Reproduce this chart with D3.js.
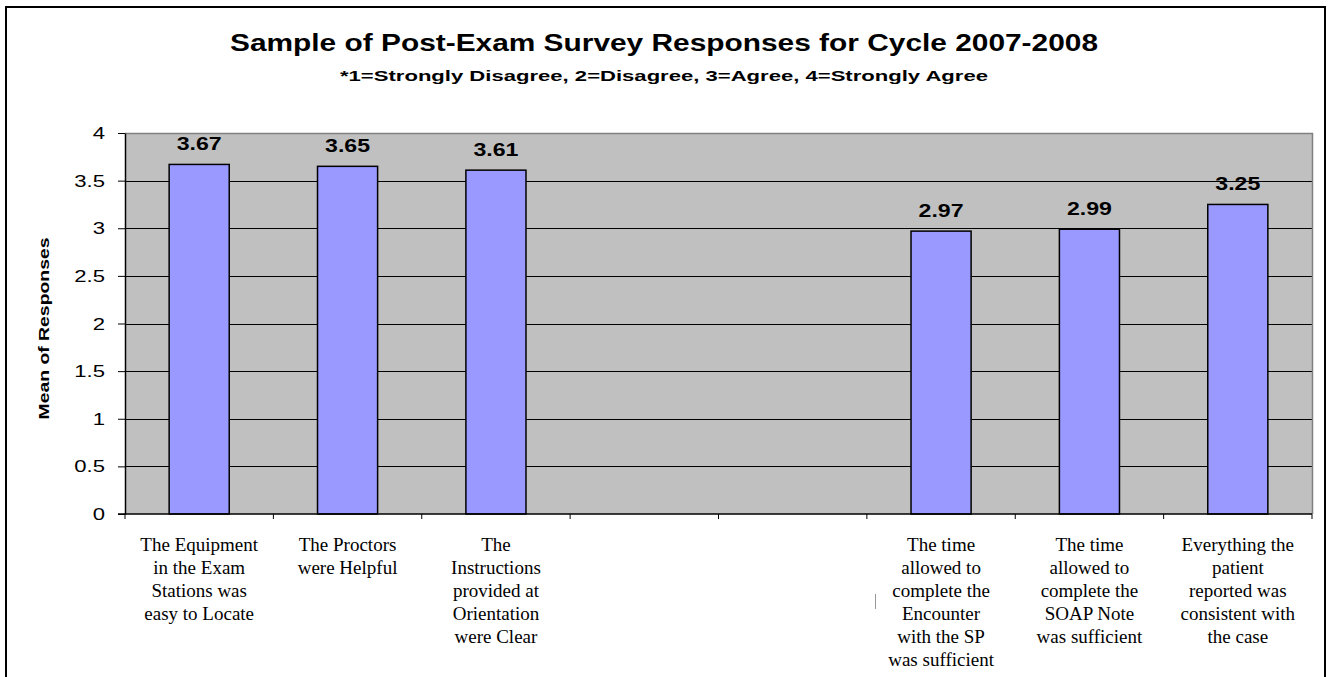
<!DOCTYPE html>
<html>
<head>
<meta charset="utf-8">
<script src="https://cdn.jsdelivr.net/npm/d3@7"></script>
<style>
  html, body { margin: 0; padding: 0; background: #fff; }
  svg { display: block; }
</style>
</head>
<body>
<svg id="chart" width="1329" height="677"></svg>
<script>
// Survey statements (two empty slots in the middle of the axis)
const categories = [
  ["The Equipment", "in the Exam", "Stations was", "easy to Locate"],
  ["The Proctors", "were Helpful"],
  ["The", "Instructions", "provided at", "Orientation", "were Clear"],
  [],
  [],
  ["The time", "allowed to", "complete the", "Encounter", "with the SP", "was sufficient"],
  ["The time", "allowed to", "complete the", "SOAP Note", "was sufficient"],
  ["Everything the", "patient", "reported was", "consistent with", "the case"]
];
// Mean response per statement (null = no bar)
const means = [3.67, 3.65, 3.61, null, null, 2.97, 2.99, 3.25];
const yTicks = [0, 0.5, 1, 1.5, 2, 2.5, 3, 3.5, 4];
const yTickLabels = ["0", "0.5", "1", "1.5", "2", "2.5", "3", "3.5", "4"];

const titleText = "Sample of Post-Exam Survey Responses for Cycle 2007-2008";
const subtitleText = "*1=Strongly Disagree, 2=Disagree, 3=Agree, 4=Strongly Agree";
const yTitleText = "Mean of Responses";

const svg = d3.select("#chart");
const sans = "'Liberation Sans', Arial, sans-serif";
const serif = "'Liberation Serif', 'Times New Roman', serif";

// Outer frame
svg.append("rect")
  .attr("x", 6).attr("y", 7)
  .attr("width", 1319).attr("height", 700)
  .attr("fill", "#fff").attr("stroke", "#000").attr("stroke-width", 2);

const plot = { left: 125, right: 1312, top: 133, bottom: 514 };

const x = d3.scaleBand()
  .domain(d3.range(categories.length))
  .range([plot.left, plot.right])
  .padding(0);

const y = d3.scaleLinear()
  .domain([0, 4])
  .range([plot.bottom, plot.top]);

// Plot area background
svg.append("rect")
  .attr("x", plot.left).attr("y", plot.top)
  .attr("width", plot.right - plot.left).attr("height", plot.bottom - plot.top)
  .attr("fill", "#C0C0C0");

// Horizontal gridlines
svg.append("g")
  .selectAll("line")
  .data(yTicks.filter(t => t > 0 && t < 4))
  .join("line")
  .attr("x1", plot.left).attr("x2", plot.right)
  .attr("y1", d => Math.round(y(d)) + 0.5).attr("y2", d => Math.round(y(d)) + 0.5)
  .attr("stroke", "#000").attr("stroke-width", 1);

// Plot border (top and right)
svg.append("path")
  .attr("d", `M${plot.left},${plot.top + 0.5}H${plot.right + 0.5}V${plot.bottom}`)
  .attr("fill", "none").attr("stroke", "#808080").attr("stroke-width", 1.5);

// Bars
const barW = x.bandwidth() * 0.405;
svg.append("g")
  .selectAll("rect")
  .data(means.map((v, i) => ({ v, i })).filter(d => d.v !== null))
  .join("rect")
  .attr("x", d => x(d.i) + (x.bandwidth() - barW) / 2)
  .attr("y", d => y(d.v))
  .attr("width", barW)
  .attr("height", d => y(0) - y(d.v))
  .attr("fill", "#9999FF")
  .attr("stroke", "#000")
  .attr("stroke-width", 1.5);

// Value labels
svg.append("g")
  .selectAll("text")
  .data(means.map((v, i) => ({ v, i })).filter(d => d.v !== null))
  .join("text")
  .attr("x", d => x(d.i) + x.bandwidth() / 2)
  .attr("y", d => y(d.v) - 14)
  .attr("text-anchor", "middle")
  .attr("font-family", sans)
  .attr("font-weight", "bold")
  .attr("font-size", 18.5)
  .attr("textLength", 45)
  .attr("lengthAdjust", "spacingAndGlyphs")
  .attr("fill", "#000")
  .text(d => d3.format(".2f")(d.v));

// Y axis
const yAxis = d3.axisLeft(y)
  .tickValues(yTicks)
  .tickFormat((d, i) => yTickLabels[i])
  .tickSize(7)
  .tickSizeOuter(0);
const yAxisG = svg.append("g")
  .attr("transform", `translate(${plot.left},0)`)
  .call(yAxis);
yAxisG.select(".domain").attr("stroke", "#000").attr("stroke-width", 1.5);
yAxisG.selectAll(".tick line").attr("stroke", "#000");
yAxisG.selectAll(".tick text")
  .attr("font-family", sans)
  .attr("font-size", 16)
  .attr("fill", "#000")
  .attr("x", -20 / 1.38)
  .attr("dy", "0.35em")
  .attr("transform", "scale(1.38,1)");

// X axis: tick marks on category boundaries
const xAxisG = svg.append("g");
xAxisG.append("line")
  .attr("x1", plot.left - 7).attr("x2", plot.right)
  .attr("y1", plot.bottom).attr("y2", plot.bottom)
  .attr("stroke", "#000").attr("stroke-width", 1.5);
xAxisG.selectAll("line.tick")
  .data(d3.range(categories.length + 1))
  .join("line")
  .attr("class", "tick")
  .attr("x1", i => i < categories.length ? x(i) : plot.right)
  .attr("x2", i => i < categories.length ? x(i) : plot.right)
  .attr("y1", plot.bottom).attr("y2", plot.bottom + 5)
  .attr("stroke", "#000").attr("stroke-width", 1);

// Category labels (wrapped, centered under each band)
const labelG = svg.append("g")
  .attr("font-family", serif)
  .attr("font-size", 19)
  .attr("fill", "#000")
  .attr("text-anchor", "middle");
categories.forEach((lines, i) => {
  const t = labelG.append("text")
    .attr("x", x(i) + x.bandwidth() / 2)
    .attr("y", 551);
  lines.forEach((ln, j) => {
    t.append("tspan")
      .attr("x", x(i) + x.bandwidth() / 2)
      .attr("y", 551 + j * 23)
      .text(ln);
  });
});

// Small stray mark beside the sixth label
svg.append("line")
  .attr("x1", 875.5).attr("x2", 875.5)
  .attr("y1", 594).attr("y2", 609)
  .attr("stroke", "#999").attr("stroke-width", 1);

// Y axis title
svg.append("text")
  .attr("transform", `translate(49,${(plot.top + plot.bottom) / 2 + 5}) rotate(-90)`)
  .attr("text-anchor", "middle")
  .attr("font-family", sans)
  .attr("font-weight", "bold")
  .attr("font-size", 15)
  .attr("textLength", 182)
  .attr("lengthAdjust", "spacingAndGlyphs")
  .text(yTitleText);

// Title and subtitle
svg.append("text")
  .attr("x", 664).attr("y", 51)
  .attr("text-anchor", "middle")
  .attr("font-family", sans)
  .attr("font-weight", "bold")
  .attr("font-size", 23.5)
  .attr("textLength", 868)
  .attr("lengthAdjust", "spacingAndGlyphs")
  .text(titleText);

svg.append("text")
  .attr("x", 664).attr("y", 81)
  .attr("text-anchor", "middle")
  .attr("font-family", sans)
  .attr("font-weight", "bold")
  .attr("font-size", 15)
  .attr("textLength", 648)
  .attr("lengthAdjust", "spacingAndGlyphs")
  .text(subtitleText);
</script>
</body>
</html>
